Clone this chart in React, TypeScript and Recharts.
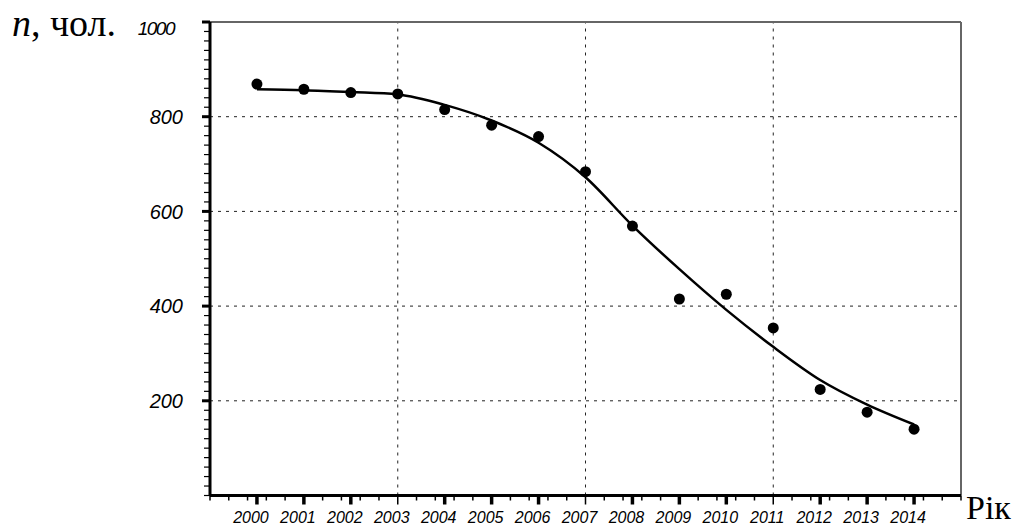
import React from 'react';
import {ComposedChart, Line, Scatter, XAxis, YAxis, ReferenceLine} from 'recharts';

// роки спостережень
const years = [2000, 2001, 2002, 2003, 2004, 2005, 2006, 2007, 2008, 2009, 2010, 2011, 2012, 2013, 2014];
// кількість, чол. (точки)
const observed = [869, 858, 851, 848, 815, 782, 758, 684, 569, 415, 425, 354, 224, 176, 140];
// згладжена крива
const trend = [858, 856, 852, 847, 825, 792, 745, 672, 570, 478, 392, 314, 244, 192, 150];

const yLabels = [200, 400, 600, 800, 1000];
const gridYears = [2003, 2007, 2011];
const gridValues = [200, 400, 600, 800];

const data = years.map((year, i) => ({year, obs: observed[i], trend: trend[i]}));

const SANS = 'Liberation Sans, Arial, sans-serif';
const SERIF = 'Liberation Serif, DejaVu Serif, serif';

// minor ticks: every 20 on y, every 0.4 year on x
const yTicks: number[] = [];
for (let v = 0; v <= 1000; v += 20) yTicks.push(v);
const xTicks: number[] = [...years];
for (let k = 0; k <= 40; k++) {
    const t = Math.round((1999 + k * 0.4) * 10) / 10;
    if (!years.includes(t)) xTicks.push(t);
}
xTicks.sort((a, b) => a - b);

const YTick = (props: any) => {
    const {x, y, payload} = props;
    const v = payload.value;
    const major = yLabels.includes(v);
    return (
        <g>
            <line x1={x - (major ? 8 : 6)} y1={y} x2={x} y2={y} stroke="#000" strokeWidth={major ? 3 : 1.2}/>
            {major && v !== 1000 && (
                <text x={x - 27} y={y} dy="0.36em" textAnchor="end" fontFamily={SANS}
                      fontStyle="italic" fontSize={20} fill="#000">{v}</text>
            )}
            {v === 1000 && (
                <text x={x - 36} y={y + 6} dy="0.36em" textAnchor="end" fontFamily={SANS}
                      fontStyle="italic" fontSize={19} letterSpacing={-1.5} fill="#000">{v}</text>
            )}
        </g>
    );
};

const XTick = (props: any) => {
    const {x, y, payload} = props;
    const v = payload.value;
    const major = years.includes(v);
    const thick = major && !gridYears.includes(v);
    return (
        <g>
            <line x1={x} y1={y} x2={x} y2={y + (major ? 9 : 5)} stroke="#000" strokeWidth={thick ? 3.5 : 1.5}/>
            {major && (
                <text x={x - 6} y={y + 22} dy="0.36em" textAnchor="middle" fontFamily={SANS}
                      fontStyle="italic" fontSize={16} fill="#000">{v}</text>
            )}
        </g>
    );
};

export default function App() {
    return (
        <div style={{position: 'absolute', left: 0, top: 0, width: 1024, height: 525, background: '#fff'}}>
            <ComposedChart width={1024} height={525} data={data}
                           margin={{top: 22, right: 63, bottom: 0, left: 0}}>
                <XAxis dataKey="year" type="number" domain={[1999, 2015]} ticks={xTicks} interval={0}
                       allowDataOverflow height={29.5} tickSize={0} tickMargin={0} tickLine={false}
                       tick={<XTick/>} axisLine={{stroke: '#000', strokeWidth: 3}}/>
                <YAxis type="number" domain={[0, 1000]} ticks={yTicks} interval={0} width={210}
                       tickSize={0} tickMargin={0} tickLine={false} tick={<YTick/>}
                       axisLine={{stroke: '#000', strokeWidth: 3}}/>
                {gridValues.map(v => (
                    <ReferenceLine key={'h' + v} y={v} stroke="#222" strokeWidth={1} strokeDasharray="3 5"/>
                ))}
                {gridYears.map(v => (
                    <ReferenceLine key={'v' + v} x={v} stroke="#222" strokeWidth={1} strokeDasharray="3 5"/>
                ))}
                <ReferenceLine y={1000} stroke="#666" strokeWidth={2}/>
                <ReferenceLine x={2015} stroke="#666" strokeWidth={2}/>
                <Line dataKey="trend" type="monotone" stroke="#000" strokeWidth={2.5} dot={false}
                      isAnimationActive={false}/>
                <Scatter dataKey="obs" fill="#000" isAnimationActive={false}
                         shape={(p: any) => <circle cx={p.cx} cy={p.cy} r={5.5} fill="#000"/>}/>
            </ComposedChart>
            <svg width={1024} height={525} style={{position: 'absolute', left: 0, top: 0, pointerEvents: 'none'}}>
                <text x={12} y={36} fontFamily={SERIF} fontSize={38} fill="#000">
                    <tspan fontStyle="italic">n</tspan>
                    <tspan>, чол.</tspan>
                </text>
                <text x={966} y={519} fontFamily={SERIF} fontSize={34} fill="#000">Рік</text>
            </svg>
        </div>
    );
}
